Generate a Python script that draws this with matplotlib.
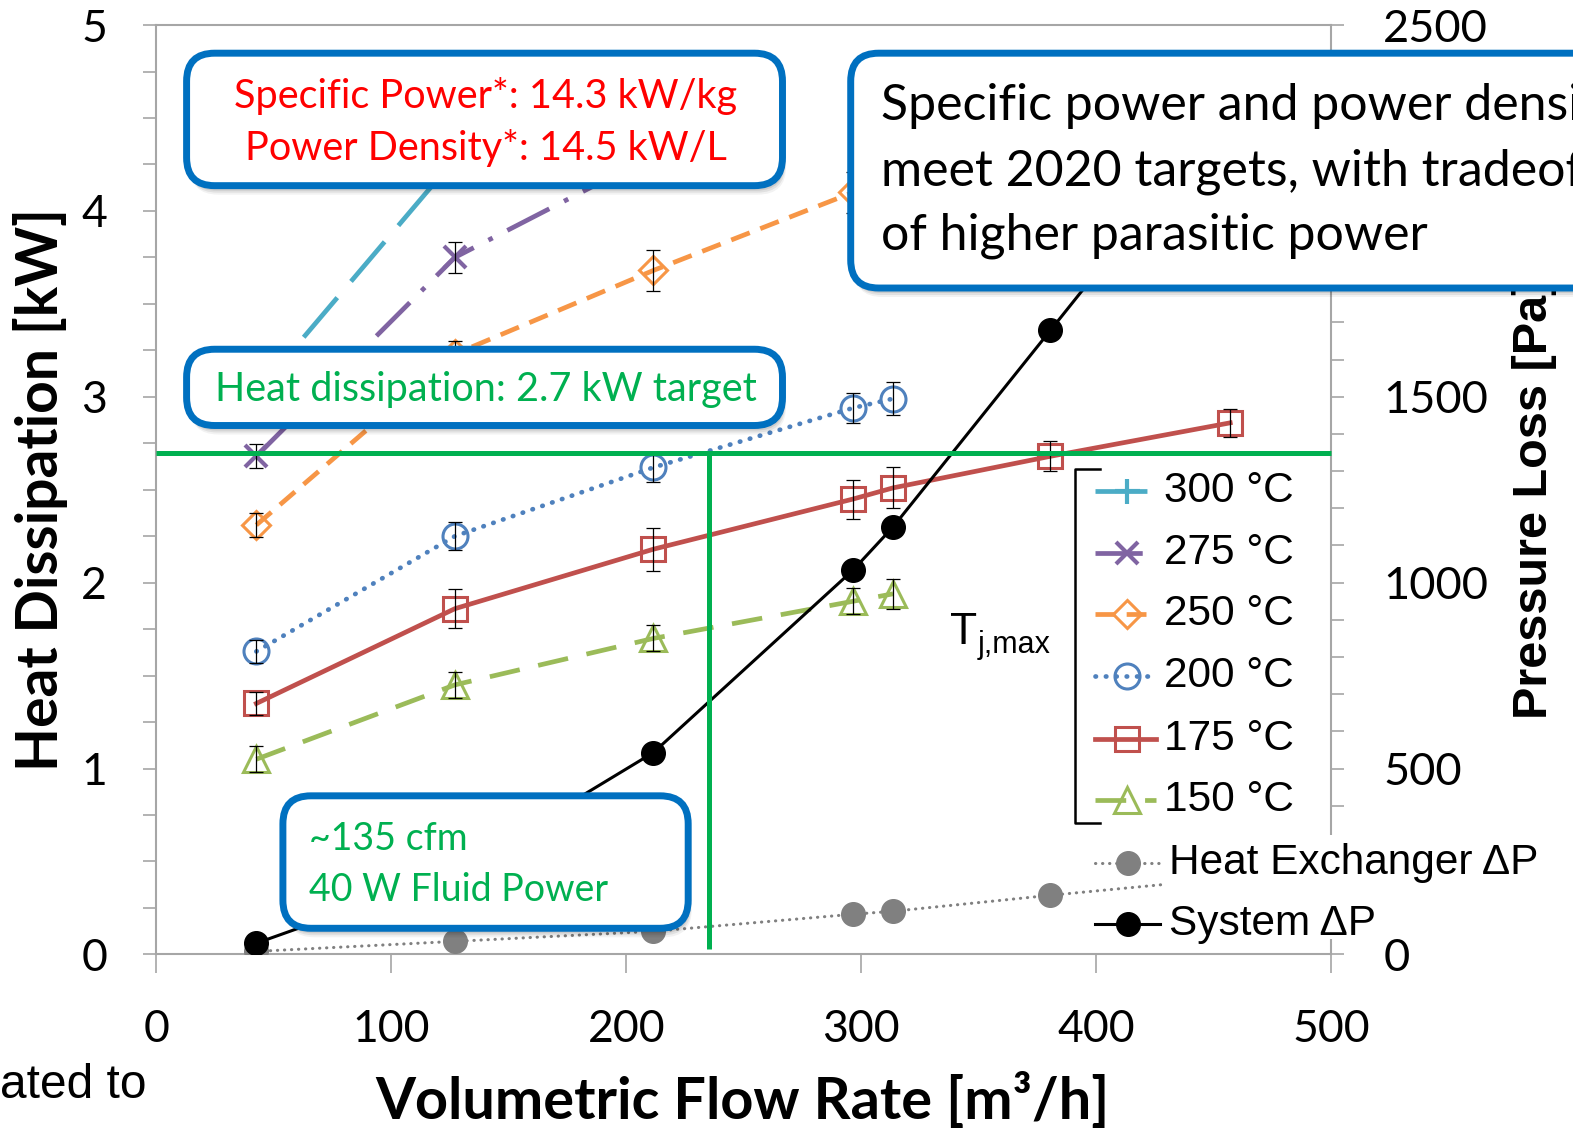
import matplotlib
matplotlib.use("Agg")
import matplotlib.pyplot as plt
from matplotlib.patches import FancyBboxPatch, Rectangle
from matplotlib.lines import Line2D
from matplotlib.ticker import MultipleLocator, FuncFormatter

# ---------------------------------------------------------------- data
flow = [42.5, 127, 211.5, 296.5, 313.5, 380.5, 457]          # m^3/h

heat_300 = [3.02, 4.28]
heat_275 = [2.68, 3.75, 4.30]
heat_250 = [2.31, 3.23, 3.68, 4.10, 4.17, 4.40, 4.62]
heat_200 = [1.63, 2.25, 2.62, 2.94, 2.99]
heat_175 = [1.35, 1.86, 2.18, 2.45, 2.51, 2.68, 2.86]
heat_150 = [1.05, 1.45, 1.70, 1.90, 1.94]

err_300 = [0.07, 0.09]
err_275 = [0.065, 0.085, 0.10]
err_250 = [0.065, 0.07, 0.11, 0.11, 0.11, 0.10, 0.10]
err_200 = [0.06, 0.075, 0.08, 0.08, 0.09]
err_175 = [0.06, 0.105, 0.115, 0.105, 0.11, 0.08, 0.075]
err_150 = [0.07, 0.07, 0.07, 0.07, 0.08]

dp_hx = [8, 35, 62, 108, 116, 159, 205]                        # Pa
dp_sys = [30, 220, 543, 1034, 1150, 1679, 2284]                # Pa

temp_labels = ["300 °C", "275 °C", "250 °C", "200 °C", "175 °C", "150 °C"]
x_ticks = [0, 100, 200, 300, 400, 500]

target_kw = 2.7
target_flow = 235

# ---------------------------------------------------------------- figure
W, H, DPI = 1573, 1130, 100
SX, SY = 1573 / 1568, 1130 / 1126          # layout grid -> output pixels
plt.rcParams["font.family"] = ["Lato", "DejaVu Sans"]
ARIAL = ["Liberation Sans", "DejaVu Sans"]

fig = plt.figure(figsize=(W / DPI, H / DPI), dpi=DPI)
fig.patch.set_facecolor("white")


def fx(x):
    return x * SX / W


def fy(y):
    return 1 - y * SY / H


ax = fig.add_axes([fx(156), fy(951), fx(1327) - fx(156), fy(25) - fy(951)])
ax2 = ax.twinx()

GREY = "#A6A6A6"
LW = 3.4

series = [
    (heat_300, err_300, dict(color="#4BACC6", ls=(0, (11, 4.5)), marker="+", ms=18, mew=3)),
    (heat_275, err_275, dict(color="#8064A2", ls=(0, (10, 3.5, 1, 3.5)), marker="x", ms=16, mew=3)),
    (heat_250, err_250, dict(color="#F79646", ls=(0, (4.2, 2.4)), marker="D", ms=14, mfc="none", mew=2.2)),
    (heat_200, err_200, dict(color="#4F81BD", ls=(0, (0.1, 2.1)), marker="o", ms=18, mfc="none", mew=2.2,
                             dash_capstyle="round")),
    (heat_175, err_175, dict(color="#C0504D", ls="-", marker="s", ms=17, mfc="none", mew=2.2)),
    (heat_150, err_150, dict(color="#9BBB59", ls=(0, (6.5, 4)), marker="^", ms=19, mfc="none", mew=2.2)),
]

for vals, errs, st in series:
    xs = flow[:len(vals)]
    ax.plot(xs, vals, lw=LW, zorder=3, **st)
    ax.errorbar(xs, vals, yerr=errs, fmt="none", ecolor="black", elinewidth=0.9,
                capsize=5, capthick=0.9, zorder=4)

hx_style = dict(color="#808080", lw=2.2, ls=(0, (0.1, 2.2)), dash_capstyle="round",
                marker="o", ms=17, mfc="#808080", mec="#808080")
sys_style = dict(color="black", lw=2.2, ls="-", marker="o", ms=17, mfc="black", mec="black")
ax2.plot(flow[:len(dp_hx)], dp_hx, zorder=3, **hx_style)
ax2.plot(flow[:len(dp_sys)], dp_sys, zorder=4, **sys_style)

# ---------------------------------------------------------------- axes styling
ax.set_xlim(0, 500)
ax.set_ylim(0, 5)
ax2.set_ylim(0, 2500)

ax.set_xticks(x_ticks)
ax.yaxis.set_major_locator(MultipleLocator(0.25))
ax.yaxis.set_major_formatter(FuncFormatter(lambda v, p: f"{v:.0f}" if abs(v - round(v)) < 1e-9 else ""))
ax2.yaxis.set_major_locator(MultipleLocator(100))
ax2.yaxis.set_major_formatter(FuncFormatter(lambda v, p: f"{v:.0f}" if abs(v % 500) < 1e-9 else ""))

for a in (ax, ax2):
    for s in a.spines.values():
        s.set_color(GREY)
        s.set_linewidth(1.5)
ax.spines["right"].set_visible(False)
for side in ("left", "bottom", "top"):
    ax2.spines[side].set_visible(False)

ax.tick_params(axis="x", direction="out", length=14, width=1.2, color=GREY, pad=25,
               labelsize=32, labelcolor="black")
ax.tick_params(axis="y", direction="out", length=9.5, width=1.2, color=GREY, pad=26,
               labelsize=32, labelcolor="black")
ax2.tick_params(axis="y", direction="out", length=9.5, width=1.2, color=GREY, pad=28,
                labelsize=32.5, labelcolor="black")

# axis titles
fig.text(fx(40), fy(488), "Heat Dissipation [kW]", rotation=90, ha="center", va="center",
         fontsize=41, fontweight="bold")
fig.text(fx(740), fy(1097), "Volumetric Flow Rate [m³/h]", ha="center", va="center",
         fontsize=41.5, fontweight="bold")
fig.text(fx(1530), fy(716), "Pressure Loss [Pa]", rotation=90, ha="center", va="bottom",
         fontsize=35, fontweight="bold", family=ARIAL)

# ---------------------------------------------------------------- target lines
GREEN = "#00B050"
fig.add_artist(Line2D([0, 500], [target_kw, target_kw], transform=ax.transData,
                      color=GREEN, lw=3.6, zorder=5, solid_capstyle="butt"))
fig.add_artist(Line2D([target_flow, target_flow], [target_kw, 0.03], transform=ax.transData,
                      color=GREEN, lw=3.6, zorder=5, solid_capstyle="butt"))

# ---------------------------------------------------------------- legend
fig.add_artist(Rectangle((fx(1160), fy(936)), fx(1548) - fx(1160), fy(832) - fy(936),
                         transform=fig.transFigure, fc="white", ec="none", zorder=5.5))

leg_y = [489, 551, 612, 674, 736, 797]
for (vals, errs, st), lab, y in zip(series, temp_labels, leg_y):
    line_st = {k: v for k, v in st.items() if k in ("color", "ls", "dash_capstyle")}
    fig.add_artist(Line2D([fx(1092), fx(1152)], [fy(y), fy(y)], transform=fig.transFigure,
                          lw=LW, zorder=6, **line_st))
    mk = {k: v for k, v in st.items() if k in ("color", "marker", "ms", "mfc", "mew")}
    fig.add_artist(Line2D([fx(1123)], [fy(y)], transform=fig.transFigure, ls="none",
                          zorder=6.1, **mk))
    fig.text(fx(1160), fy(y), lab, ha="left", va="center", fontsize=30.5, family=ARIAL, zorder=6)

for st, lab, y in ((hx_style, "Heat Exchanger ΔP", 860), (sys_style, "System ΔP", 921)):
    line_st = {k: v for k, v in st.items() if k in ("color", "lw", "ls", "dash_capstyle")}
    fig.add_artist(Line2D([fx(1092), fx(1156)], [fy(y), fy(y)], transform=fig.transFigure,
                          zorder=6, **line_st))
    mk = {k: v for k, v in st.items() if k in ("marker", "ms", "mfc", "mec")}
    fig.add_artist(Line2D([fx(1124)], [fy(y)], transform=fig.transFigure, ls="none",
                          zorder=6.1, **mk))
    fig.text(fx(1165), fy(y), lab, ha="left", va="center", fontsize=30.5, family=ARIAL, zorder=6)

# bracket grouping the junction temperatures
fig.add_artist(Line2D([fx(1097), fx(1072), fx(1072), fx(1097)],
                      [fy(467), fy(467), fy(820), fy(820)],
                      transform=fig.transFigure, color="black", lw=1.8, zorder=6))
fig.text(fx(947), fy(630), "T", ha="left", va="center", fontsize=32, family=ARIAL, zorder=6)
fig.text(fx(975), fy(643), "j,max", ha="left", va="center", fontsize=22, family=ARIAL, zorder=6)

# ---------------------------------------------------------------- callout boxes
BLUE = "#0070C0"


def callout(x0, y0, x1, y1):
    """Rounded white callout with a blue frame; layout-grid coordinates, top-left origin."""
    x, y = x0 * SX / DPI, (H - y1 * SY) / DPI
    w, h = (x1 - x0) * SX / DPI, (y1 - y0) * SY / DPI
    for off, alpha in ((9, 0.05), (7, 0.07), (5, 0.09)):
        fig.add_artist(FancyBboxPatch((x + off * 0.4 / DPI, y - off / DPI), w, h,
                                      boxstyle="round,pad=0,rounding_size=0.28",
                                      transform=fig.dpi_scale_trans, fc="black", ec="none",
                                      alpha=alpha, zorder=9))
    fig.add_artist(FancyBboxPatch((x, y), w, h, boxstyle="round,pad=0,rounding_size=0.28",
                                  transform=fig.dpi_scale_trans, fc="white", ec=BLUE,
                                  lw=5, zorder=10))


callout(186, 53, 780, 185)
fig.text(fx(484), fy(96), "Specific Power*: 14.3 kW/kg", ha="center", va="center",
         fontsize=28.5, color="#FF0000", zorder=11)
fig.text(fx(484), fy(147), "Power Density*: 14.5 kW/L", ha="center", va="center",
         fontsize=28.5, color="#FF0000", zorder=11)

callout(186, 348, 780, 424)
fig.text(fx(484), fy(388), "Heat dissipation: 2.7 kW target", ha="center", va="center",
         fontsize=28.5, color=GREEN, zorder=11)

callout(282, 793, 686, 925)
fig.text(fx(308), fy(836), "~135 cfm", ha="left", va="center", fontsize=27, color=GREEN, zorder=11)
fig.text(fx(308), fy(887), "40 W Fluid Power", ha="left", va="center", fontsize=27, color=GREEN,
         zorder=11)

callout(848, 53, 1750, 287)
for txt, y in (("Specific power and power density", 106),
               ("meet 2020 targets, with tradeoff", 171),
               ("of higher parasitic power", 235)):
    fig.text(fx(878), fy(y), txt, ha="left", va="center", fontsize=36, color="black", zorder=11)

# surrounding slide text
fig.text(fx(0), fy(1082), "ated to", ha="left", va="center", fontsize=34.5, family=ARIAL)

fig.savefig("out.png", dpi=DPI, facecolor="white")
